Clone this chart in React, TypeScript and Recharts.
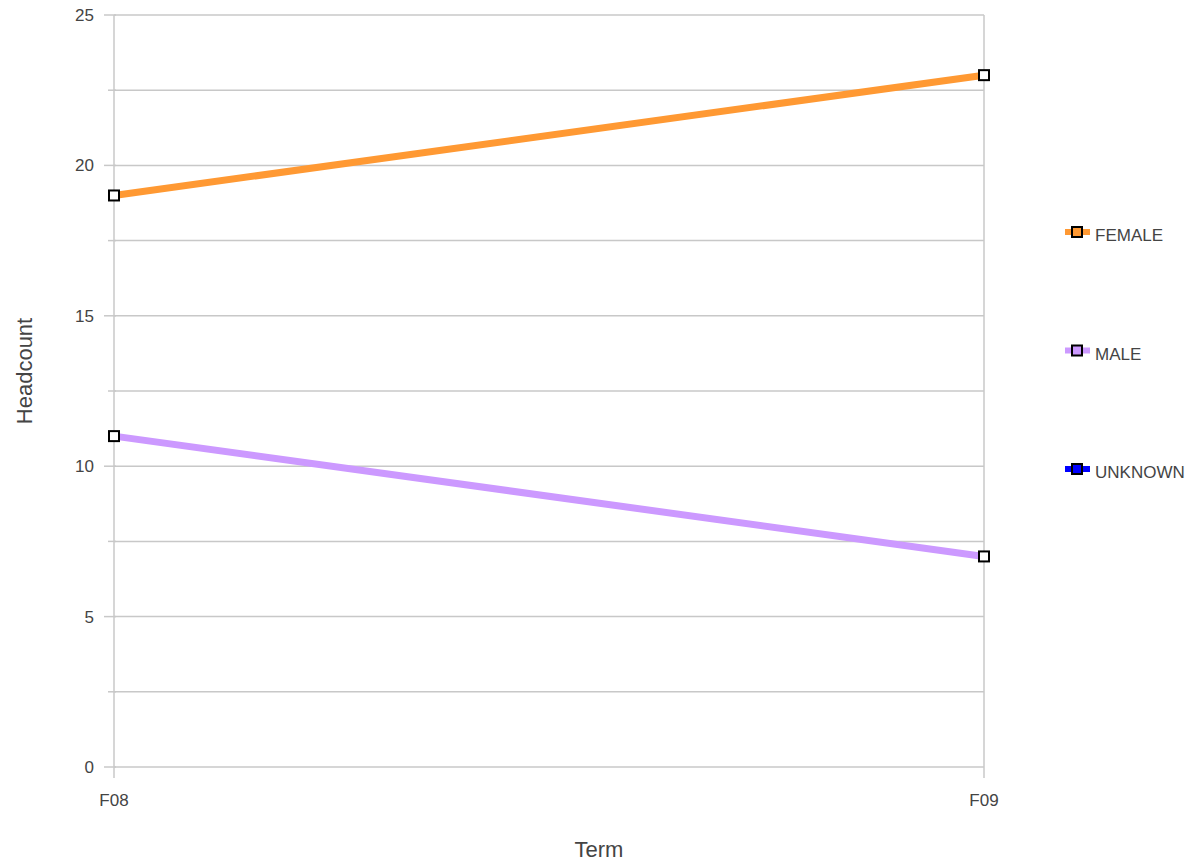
import React from "react";
import {
  LineChart,
  Line,
  XAxis,
  YAxis,
  CartesianGrid,
  Label,
} from "recharts";

const terms = ["F08", "F09"];
const femaleValues = [19, 23];
const maleValues = [11, 7];
const unknownValues: (number | null)[] = [null, null];
const yTicks = [0, 2.5, 5, 7.5, 10, 12.5, 15, 17.5, 20, 22.5, 25];

const series = [
  { key: "FEMALE", color: "#ff9933" },
  { key: "MALE", color: "#cc99ff" },
  { key: "UNKNOWN", color: "#0000ff" },
];

const data = terms.map((term, i) => ({
  term,
  FEMALE: femaleValues[i],
  MALE: maleValues[i],
  UNKNOWN: unknownValues[i],
}));

const FONT = "'Liberation Sans', Arial, Helvetica, sans-serif";
const TEXT = "#444";
const GRID = "#c8c8c8";

const SquareDot = (props: any) => {
  const { cx, cy, value } = props;
  if (value == null || cx == null || cy == null) return null;
  return (
    <rect
      x={cx - 5}
      y={cy - 5}
      width={10}
      height={10}
      fill="#fff"
      stroke="#000"
      strokeWidth={2}
    />
  );
};

const YTick = (props: any) => {
  const { x, y, payload } = props;
  const v = payload.value;
  const major = v % 5 === 0;
  return (
    <g>
      <line
        x1={x + (major ? -2 : 2)}
        x2={x + 10}
        y1={y}
        y2={y}
        stroke={GRID}
        strokeWidth={1.5}
      />
      {major && (
        <text
          x={x - 12}
          y={y}
          dy={6}
          textAnchor="end"
          fill={TEXT}
          fontSize={17}
          fontFamily={FONT}
        >
          {v}
        </text>
      )}
    </g>
  );
};

const ChartLegend = () => (
  <svg
    width={140}
    height={280}
    style={{ position: "absolute", left: 1062, top: 222 }}
  >
    {series.map((s, i) => {
      const cy = 10 + i * 118.5;
      return (
        <g key={s.key}>
          <line x1={3} x2={28} y1={cy} y2={cy} stroke={s.color} strokeWidth={6} />
          <rect
            x={10}
            y={cy - 5}
            width={10}
            height={10}
            fill={s.color}
            stroke="#000"
            strokeWidth={2}
          />
          <text x={33} y={cy + 9} fill={TEXT} fontSize={17} fontFamily={FONT}>
            {s.key}
          </text>
        </g>
      );
    })}
  </svg>
);

export default function App() {
  return (
    <div style={{ position: "absolute", left: 0, top: 0, width: 1195, height: 866, background: "#fff" }}>
      <LineChart
        width={1195}
        height={866}
        data={data}
        margin={{ top: 15, right: 211, bottom: 49, left: 54 }}
      >
        <CartesianGrid stroke={GRID} strokeWidth={1.5} />
        <XAxis
          dataKey="term"
          padding={{ left: 0, right: 0 }}
          axisLine={false}
          tickLine={{ stroke: GRID, strokeWidth: 1.5 }}
          tickSize={11}
          height={50}
          tick={{ fill: TEXT, fontSize: 17, fontFamily: FONT, dy: 14 }}
        >
          <Label
            value="Term"
            position="insideBottom"
            offset={0}
            dx={50}
            dy={40}
            style={{ fill: TEXT, fontSize: 22, fontFamily: FONT }}
          />
        </XAxis>
        <YAxis
          domain={[0, 25]}
          ticks={yTicks}
          interval={0}
          axisLine={false}
          tickLine={false}
          width={60}
          tick={<YTick />}
        >
          <Label
            value="Headcount"
            angle={-90}
            position="insideLeft"
            offset={0}
            dx={-30}
            dy={-20}
            style={{ fill: TEXT, fontSize: 22, fontFamily: FONT, textAnchor: "middle" }}
          />
        </YAxis>
        {series.map((s) => (
          <Line
            key={s.key}
            type="linear"
            dataKey={s.key}
            stroke={s.color}
            strokeWidth={7}
            dot={<SquareDot />}
            activeDot={false}
            isAnimationActive={false}
            legendType="none"
          />
        ))}
      </LineChart>
      <ChartLegend />
    </div>
  );
}
